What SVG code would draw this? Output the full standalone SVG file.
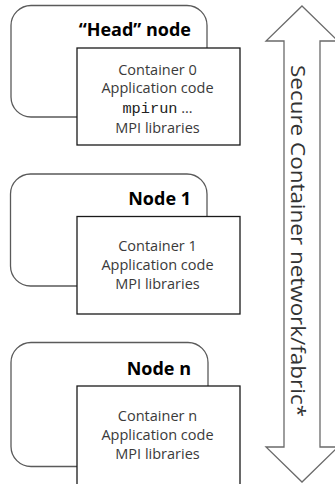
<svg xmlns="http://www.w3.org/2000/svg" width="335" height="484" viewBox="0 0 335 484">
<style>
.node{fill:#fff;stroke:#5a5a5a;stroke-width:1.3}
.box{fill:#fff;stroke:#1a1a1a;stroke-width:1.3}
.title{font-family:"Open Sans","Noto Sans",sans-serif;font-weight:bold;font-size:18px;fill:#000;text-anchor:end}
.t{font-family:"Open Sans","Noto Sans",sans-serif;font-size:14.5px;fill:#3a3a3a;text-anchor:middle}
.mono{font-family:"Liberation Mono",monospace;font-size:15.3px;fill:#222}
.arrow{fill:#fff;stroke:#6a6a6a;stroke-width:1.3}
.at{font-family:"Open Sans","Noto Sans",sans-serif;font-size:20px;fill:#333}
</style>
<rect width="335" height="484" fill="#fff"/>
<g id="connectors">
<polygon class="arrow" points="302,6 338,41 320,41 320,447 338,447 302,482 266,447 284,447 284,41 266,41"/>
<text class="at" transform="translate(290.5,65) rotate(90)" textLength="352" lengthAdjust="spacingAndGlyphs">Secure Container network/fabric*</text>
</g>
<g id="head-node">
<rect class="node" x="11" y="5.5" width="196" height="111.5" rx="20"/>
<text class="title" x="191" y="36">“Head” node</text>
</g>
<g id="container-0">
<rect class="box" x="77" y="48" width="163" height="97"/>
<text class="t" x="157.5" y="74.5">Container 0</text>
<text class="t" x="157.5" y="93">Application code</text>
<text class="t" x="157.5" y="112.5"><tspan class="mono">mpirun</tspan> …</text>
<text class="t" x="157.5" y="133">MPI libraries</text>
</g>
<g id="node-1">
<rect class="node" x="10.5" y="174" width="196.5" height="112" rx="20"/>
<text class="title" x="191" y="205">Node 1</text>
</g>
<g id="container-1">
<rect class="box" x="77" y="216.5" width="163" height="97.5"/>
<text class="t" x="157.5" y="251">Container 1</text>
<text class="t" x="157.5" y="270">Application code</text>
<text class="t" x="157.5" y="289">MPI libraries</text>
</g>
<g id="node-n">
<rect class="node" x="11" y="342.5" width="197" height="124" rx="20"/>
<text class="title" x="191" y="375">Node n</text>
</g>
<g id="container-n">
<rect class="box" x="77" y="386" width="163" height="110"/>
<text class="t" x="157.5" y="421">Container n</text>
<text class="t" x="157.5" y="440">Application code</text>
<text class="t" x="157.5" y="459">MPI libraries</text>
</g>
</svg>
